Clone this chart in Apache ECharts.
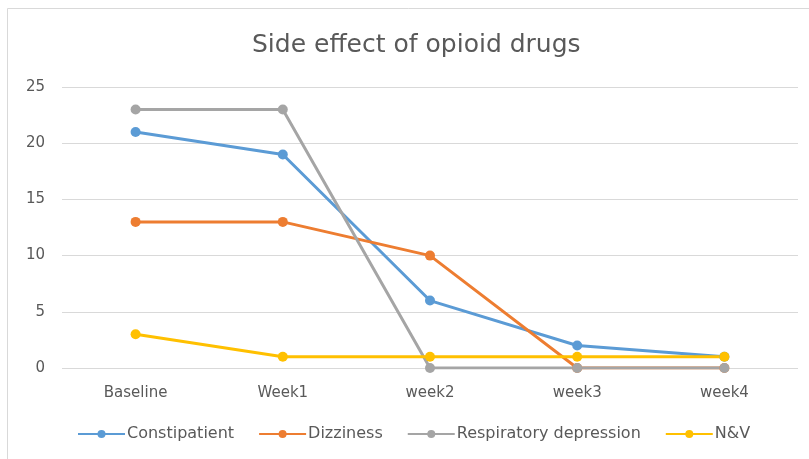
<!DOCTYPE html>
<html>
<head>
<meta charset="utf-8">
<script src="https://cdn.jsdelivr.net/npm/echarts@6/dist/echarts.min.js"></script>
<style>
html,body{margin:0;padding:0;background:#fff;}
#chart{width:809px;height:459px;}
</style>
</head>
<body>
<div id="chart"></div>
<script>
// Weekly counts of side effects reported
const categories = ['Baseline', 'Week1', 'week2', 'week3', 'week4'];
const constipatient = [21, 19, 6, 2, 1];
const dizziness = [13, 13, 10, 0, 0];
const respiratory = [23, 23, 0, 0, 0];
const nausea = [3, 1, 1, 1, 1];
const yTicks = { min: 0, max: 25, interval: 5 };

const font = 'DejaVu Sans, sans-serif';
const textGray = '#595959';

function lineSeries(name, data, color) {
  return {
    name: name,
    type: 'line',
    data: data,
    symbol: 'circle',
    symbolSize: 10,
    lineStyle: { width: 3, color: color },
    itemStyle: { color: color },
    emphasis: { disabled: true }
  };
}

const chart = echarts.init(document.getElementById('chart'), null, { renderer: 'canvas' });
chart.setOption({
  animation: false,
  backgroundColor: '#fff',
  graphic: [{
    type: 'rect',
    shape: { x: 7.5, y: 8.5, width: 820, height: 470 },
    style: { fill: 'none', stroke: '#d9d9d9', lineWidth: 1 },
    silent: true
  }],
  title: {
    text: 'Side effect of opioid drugs',
    left: 247,
    top: 28,
    textStyle: { fontFamily: font, fontSize: 25, fontWeight: 'normal', color: textGray }
  },
  legend: {
    bottom: 12,
    left: 72,
    itemWidth: 47,
    itemHeight: 10,
    itemGap: 24,
    textStyle: { fontFamily: font, fontSize: 16, color: textGray, padding: [0, 0, 0, -3] },
    data: ['Constipatient', 'Dizziness', 'Respiratory depression', 'N&V']
  },
  grid: { left: 62, right: 11, top: 87, bottom: 91, containLabel: false },
  xAxis: {
    type: 'category',
    data: categories,
    boundaryGap: true,
    axisLine: { show: false },
    axisTick: { show: false },
    axisLabel: { fontFamily: font, fontSize: 15, color: textGray, margin: 18 }
  },
  yAxis: {
    type: 'value',
    min: yTicks.min,
    max: yTicks.max,
    interval: yTicks.interval,
    axisLine: { show: false },
    axisTick: { show: false },
    splitLine: { lineStyle: { color: '#d9d9d9', width: 1 } },
    axisLabel: { fontFamily: font, fontSize: 15, color: textGray, margin: 17 }
  },
  series: [
    lineSeries('Constipatient', constipatient, '#5B9BD5'),
    lineSeries('Dizziness', dizziness, '#ED7D31'),
    lineSeries('Respiratory depression', respiratory, '#A5A5A5'),
    lineSeries('N&V', nausea, '#FFC000')
  ]
});
</script>
</body>
</html>
